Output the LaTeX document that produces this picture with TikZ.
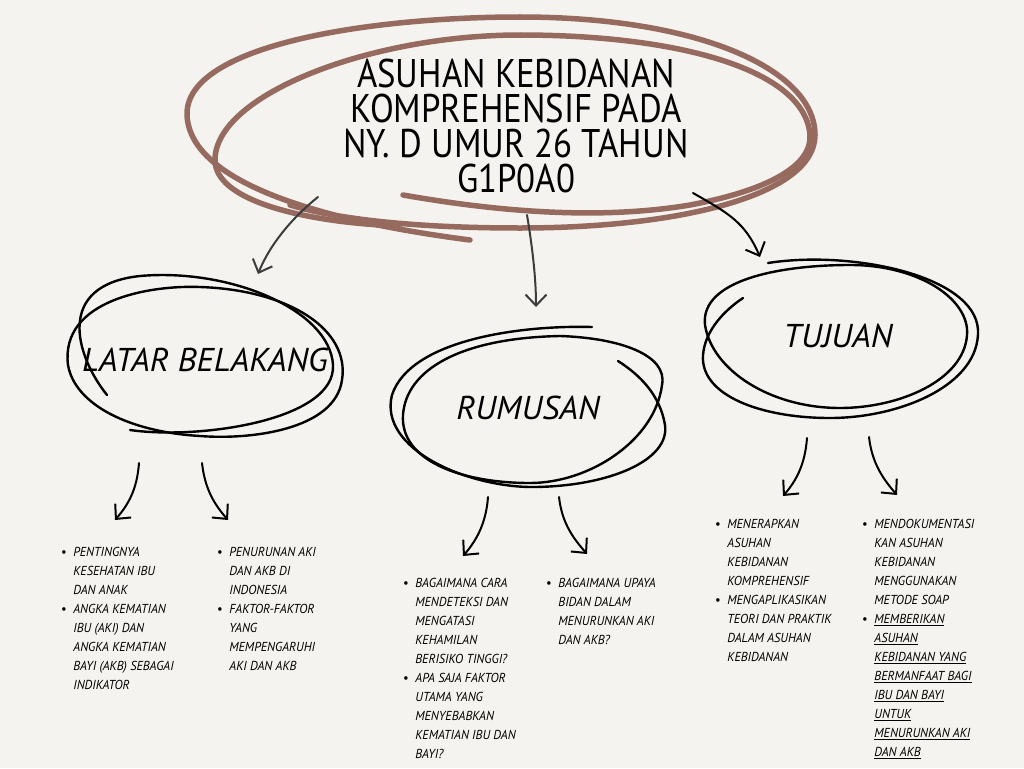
\documentclass[tikz,border=0pt]{standalone}
\usepackage{fontspec}
\usetikzlibrary{arrows.meta}
\newfontfamily\titlefont[FakeStretch=0.87]{PT Sans}
\newfontfamily\bubblefont[FakeStretch=1.02]{PT Sans}
\newfontfamily\listfont[FakeStretch=0.95]{PT Sans}
\definecolor{paper}{RGB}{244,243,239}
\definecolor{loopbrown}{RGB}{150,106,95}
\definecolor{pencil}{RGB}{60,60,60}
\tikzset{every picture/.style={line width=0.75pt}}
\newcommand{\itembullet}{\llap{\textbullet\hspace{7pt}}}

\begin{document}
\begin{tikzpicture}[x=1pt,y=1pt,yscale=-1,xscale=1,
  titletext/.style={font=\titlefont\fontsize{40}{35}\selectfont, anchor=base, inner sep=0pt},
  bubbletext/.style={font=\bubblefont\itshape\fontsize{33}{36}\selectfont, inner sep=0pt},
  listtext/.style={font=\listfont\itshape\fontsize{13}{19}\selectfont, align=left, anchor=north west, inner sep=0pt},
  brownloop/.style={draw=loopbrown, line width=5.5pt, line cap=round, line join=round},
  scribble/.style={line width=2.4pt, line cap=round, line join=round},
  handarrow/.style={line width=2pt, line cap=round, line join=round, -{Straight Barb[length=11pt,width=21pt]}}]

\fill[paper] (0,0) rectangle (1024,768);
\useasboundingbox (0,0) rectangle (1024,768);

%Title scribble
\draw[brownloop] (470,240) .. controls (330,222) and (190,185) .. (187,115) .. controls (185,45) and (370,17) .. (520,17) .. controls (700,17) and (815,70) .. (815,135) .. controls (815,195) and (680,228) .. (520,228) .. controls (420,228) and (340,220) .. (290,205) ;
\draw[brownloop] (403,195) .. controls (500,212) and (600,220) .. (690,205) .. controls (770,190) and (812,165) .. (810,135) .. controls (805,70) and (680,35) .. (520,35) .. controls (370,35) and (215,95) .. (215,160) .. controls (215,200) and (300,220) .. (380,225) ;

% Title
\node[titletext] (judul-1) at (516,87) {ASUHAN KEBIDANAN};
\node[titletext] (judul-2) at (516,122) {KOMPREHENSIF PADA};
\node[titletext] (judul-3) at (516,157) {NY. D UMUR 26 TAHUN};
\node[titletext] (judul-4) at (516,192) {G1P0A0};

%Latar belakang scribble
\draw[scribble] (107,395) .. controls (75,355) and (55,285) .. (140,276) .. controls (230,268) and (330,310) .. (333,365) .. controls (336,420) and (200,440) .. (130,430) ;
\draw[scribble] (68,365) .. controls (60,300) and (150,285) .. (200,287) .. controls (290,290) and (350,330) .. (342,380) .. controls (335,430) and (250,440) .. (200,436) .. controls (130,432) and (75,405) .. (68,365) ;
\node[bubbletext] (latar) at (205,360) {LATAR BELAKANG};

%Rumusan scribble
\draw[scribble] (592,327) .. controls (520,325) and (410,340) .. (392,395) .. controls (378,450) and (470,488) .. (535,487) .. controls (610,486) and (670,460) .. (665,425) .. controls (660,395) and (640,375) .. (618,361) ;
\draw[scribble] (560,336) .. controls (620,338) and (668,355) .. (662,385) .. controls (655,440) and (590,483) .. (530,483) .. controls (460,483) and (400,460) .. (403,415) .. controls (406,370) and (460,338) .. (560,336) ;
\node[bubbletext] (rumusan) at (528,408) {RUMUSAN};

%Tujuan scribble
\draw[scribble] (768,263) .. controls (850,250) and (975,275) .. (978,330) .. controls (980,385) and (900,418) .. (830,418) .. controls (760,418) and (700,395) .. (703,355) .. controls (705,330) and (725,310) .. (743,298) ;
\draw[scribble] (705,325) .. controls (700,280) and (780,265) .. (850,265) .. controls (920,265) and (970,300) .. (967,335) .. controls (964,380) and (900,408) .. (840,408) .. controls (770,408) and (712,370) .. (705,325) ;
\node[bubbletext] (tujuan) at (838,336) {TUJUAN};

% Arrow ends
\coordinate (jl-s) at (318,197);
\coordinate (jl-e) at (258,274);
\coordinate (jm-s) at (527,215);
\coordinate (jm-e) at (536,307);
\coordinate (jr-s) at (693,193);
\coordinate (jr-e) at (760,257);
\coordinate (lb1-s) at (139,463);
\coordinate (lb1-e) at (115,520);
\coordinate (lb2-s) at (202,463);
\coordinate (lb2-e) at (228,520);
\coordinate (rm1-s) at (488,497);
\coordinate (rm1-e) at (463,556);
\coordinate (rm2-s) at (559,497);
\coordinate (rm2-e) at (587,554);
\coordinate (tj1-s) at (807,438);
\coordinate (tj1-e) at (783,496);
\coordinate (tj2-s) at (869,437);
\coordinate (tj2-e) at (897,495);

% Arrows
\draw[handarrow, draw=pencil] (jl-s) .. controls +(-25,20) and +(12,-30) .. (jl-e);
\draw[handarrow, draw=pencil] (jm-s) .. controls +(5,30) and +(0,-30) .. (jm-e);
\draw[handarrow] (jr-s) .. controls +(35,20) and +(-15,-35) .. (jr-e);
\draw[handarrow] (lb1-s) .. controls +(-2,27) and +(13,-15) .. (lb1-e);
\draw[handarrow] (lb2-s) .. controls +(3,27) and +(-13,-15) .. (lb2-e);
\draw[handarrow] (rm1-s) .. controls +(-2,27) and +(13,-15) .. (rm1-e);
\draw[handarrow] (rm2-s) .. controls +(3,27) and +(-13,-15) .. (rm2-e);
\draw[handarrow] (tj1-s) .. controls +(-2,27) and +(13,-15) .. (tj1-e);
\draw[handarrow] (tj2-s) .. controls +(3,27) and +(-13,-15) .. (tj2-e);

% Lists
\node[listtext] (latar-a) at (73,547) {\itembullet PENTINGNYA\\KESEHATAN IBU\\DAN ANAK\\\itembullet ANGKA KEMATIAN\\IBU (AKI) DAN\\ANGKA KEMATIAN\\BAYI (AKB) SEBAGAI\\INDIKATOR};
\node[listtext] (latar-b) at (229,547) {\itembullet PENURUNAN AKI\\DAN AKB DI\\INDONESIA\\\itembullet FAKTOR-FAKTOR\\YANG\\MEMPENGARUHI\\AKI DAN AKB};
\node[listtext] (rumusan-a) at (415,578) {\itembullet BAGAIMANA CARA\\MENDETEKSI DAN\\MENGATASI\\KEHAMILAN\\BERISIKO TINGGI?\\\itembullet APA SAJA FAKTOR\\UTAMA YANG\\MENYEBABKAN\\KEMATIAN IBU DAN\\BAYI?};
\node[listtext] (rumusan-b) at (558,578) {\itembullet BAGAIMANA UPAYA\\BIDAN DALAM\\MENURUNKAN AKI\\DAN AKB?};
\node[listtext] (tujuan-a) at (727,519) {\itembullet MENERAPKAN\\ASUHAN\\KEBIDANAN\\KOMPREHENSIF\\\itembullet MENGAPLIKASIKAN\\TEORI DAN PRAKTIK\\DALAM ASUHAN\\KEBIDANAN};
\node[listtext] (tujuan-b) at (874,519) {\itembullet MENDOKUMENTASI\\KAN ASUHAN\\KEBIDANAN\\MENGGUNAKAN\\METODE SOAP\\\itembullet \underline{MEMBERIKAN}\\\underline{ASUHAN}\\\underline{KEBIDANAN YANG}\\\underline{BERMANFAAT BAGI}\\\underline{IBU DAN BAYI}\\\underline{UNTUK}\\\underline{MENURUNKAN AKI}\\\underline{DAN AKB}};
\end{tikzpicture}
\end{document}
